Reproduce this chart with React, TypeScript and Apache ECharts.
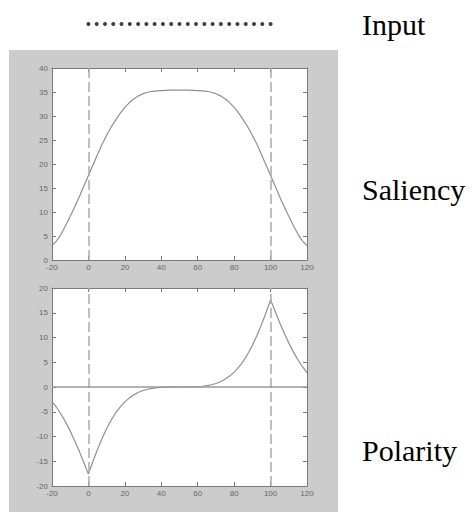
import React, { useEffect, useRef } from "react";
import * as echarts from "echarts";

const xValues = [
  -20, -17.5, -15, -12.5, -10, -7.5, -5, -2.5, 0, 2.5, 5, 7.5, 10, 12.5, 15, 17.5, 20, 22.5, 25, 27.5, 30,
  32.5, 35, 37.5, 40, 42.5, 45, 47.5, 50, 52.5, 55, 57.5, 60, 62.5, 65, 67.5, 70, 72.5, 75, 77.5, 80, 82.5,
  85, 87.5, 90, 92.5, 95, 97.5, 100, 102.5, 105, 107.5, 110, 112.5, 115, 117.5, 120,
];

const saliency = [
  3.0, 4.0, 5.4, 7.2, 9.1, 11.1, 13.2, 15.4, 17.6, 19.8, 22.0, 24.1, 26.0, 27.7, 29.2, 30.6, 31.8, 32.8, 33.6,
  34.2, 34.65, 34.95, 35.15, 35.25, 35.3, 35.35, 35.4, 35.4, 35.4, 35.4, 35.4, 35.35, 35.3, 35.25, 35.15, 34.95,
  34.65, 34.2, 33.6, 32.8, 31.8, 30.6, 29.2, 27.7, 26.0, 24.1, 22.0, 19.8, 17.6, 15.4, 13.2, 11.1, 9.1, 7.2,
  5.4, 4.0, 3.0,
];

const polarity = [
  -2.9, -4.1, -5.5, -7.1, -8.9, -10.9, -13.0, -15.3, -17.6, -15.0, -12.6, -10.4, -8.4, -6.7, -5.2, -4.0, -3.0,
  -2.2, -1.55, -1.05, -0.7, -0.45, -0.27, -0.15, -0.07, -0.03, -0.01, 0, 0, 0, 0.01, 0.03, 0.07, 0.15, 0.27,
  0.45, 0.7, 1.05, 1.55, 2.2, 3.0, 4.0, 5.2, 6.7, 8.4, 10.4, 12.6, 15.0, 17.6, 15.3, 13.0, 10.9, 8.9, 7.1, 5.5,
  4.1, 2.9,
];

const inputDots = [
  0, 4.55, 9.09, 13.64, 18.18, 22.73, 27.27, 31.82, 36.36, 40.91, 45.45, 50, 54.55, 59.09, 63.64, 68.18, 72.73,
  77.27, 81.82, 86.36, 90.91, 95.45, 100,
];

const edgePositions = [0, 100];
const rowLabels = ["Input", "Saliency", "Polarity"];

const AXIS_COLOR = "#7a7a7a";
const LABEL_COLOR = "#666666";
const CURVE_COLOR = "#8f8f8f";
const DASH_COLOR = "#aaaaaa";

function axisPair(kind: "x" | "y", gridIndex: number, min: number, max: number, interval: number) {
  const common = {
    gridIndex,
    type: "value",
    min,
    max,
    interval,
    splitLine: { show: false },
    axisLine: { show: true, onZero: false, lineStyle: { color: AXIS_COLOR, width: 1 } },
    axisTick: { show: true, inside: true, length: 4, lineStyle: { color: AXIS_COLOR } },
  };
  const main = {
    ...common,
    position: kind === "x" ? "bottom" : "left",
    axisLabel: {
      show: true,
      color: LABEL_COLOR,
      fontSize: 8,
      fontFamily: "Liberation Sans",
      margin: kind === "x" ? 3 : 4,
    },
  };
  const opposite = {
    ...common,
    position: kind === "x" ? "top" : "right",
    axisLabel: { show: false },
  };
  return [main, opposite];
}

export default function App() {
  const ref = useRef<HTMLDivElement>(null);

  useEffect(() => {
    if (!ref.current) return;
    const chart = echarts.init(ref.current, undefined, { renderer: "svg" });

    const dashedEdges = edgePositions.map((x) => ({
      xAxis: x,
      lineStyle: { color: DASH_COLOR, width: 1.5, type: [10, 4] },
    }));

    const option: any = {
      animation: false,
      backgroundColor: "#ffffff",
      graphic: [
        {
          type: "rect",
          z: -10,
          shape: { x: 9, y: 50, width: 329, height: 462 },
          style: { fill: "#cccccc" },
        },
        {
          type: "text",
          x: 362,
          y: 24,
          style: {
            text: rowLabels[0],
            font: "30px 'Liberation Serif'",
            fill: "#000",
            verticalAlign: "middle",
          },
        },
        {
          type: "text",
          x: 362,
          y: 189,
          style: {
            text: rowLabels[1],
            font: "30px 'Liberation Serif'",
            fill: "#000",
            verticalAlign: "middle",
          },
        },
        {
          type: "text",
          x: 362,
          y: 450,
          style: {
            text: rowLabels[2],
            font: "30px 'Liberation Serif'",
            fill: "#000",
            verticalAlign: "middle",
          },
        },
      ],
      grid: [
        { left: 52, top: 14, width: 255, height: 20, show: false },
        { left: 52, top: 68, width: 255, height: 192, show: true, backgroundColor: "#ffffff", borderWidth: 0 },
        { left: 52, top: 288, width: 255, height: 198, show: true, backgroundColor: "#ffffff", borderWidth: 0 },
      ],
      xAxis: [
        { gridIndex: 0, type: "value", min: -20, max: 120, show: false },
        ...axisPair("x", 1, -20, 120, 20),
        ...axisPair("x", 2, -20, 120, 20),
      ],
      yAxis: [
        { gridIndex: 0, type: "value", min: -1, max: 1, show: false },
        ...axisPair("y", 1, 0, 40, 5),
        ...axisPair("y", 2, -20, 20, 5),
      ],
      series: [
        {
          type: "scatter",
          xAxisIndex: 0,
          yAxisIndex: 0,
          symbol: "circle",
          symbolSize: 4,
          itemStyle: { color: "#111111" },
          data: inputDots.map((x) => [x, 0]),
        },
        {
          type: "line",
          xAxisIndex: 1,
          yAxisIndex: 1,
          showSymbol: false,
          symbol: "none",
          lineStyle: { color: CURVE_COLOR, width: 1.2 },
          data: xValues.map((x, i) => [x, saliency[i]]),
          markLine: {
            silent: true,
            symbol: "none",
            label: { show: false },
            data: dashedEdges,
          },
        },
        {
          type: "line",
          xAxisIndex: 3,
          yAxisIndex: 3,
          showSymbol: false,
          symbol: "none",
          lineStyle: { color: CURVE_COLOR, width: 1.2 },
          data: xValues.map((x, i) => [x, polarity[i]]),
          markLine: {
            silent: true,
            symbol: "none",
            label: { show: false },
            data: [
              ...dashedEdges,
              { yAxis: 0, lineStyle: { color: "#999999", width: 1.5, type: "solid" } },
            ],
          },
        },
      ],
    };

    chart.setOption(option);
    return () => chart.dispose();
  }, []);

  return (
    <div
      ref={ref}
      style={{ position: "fixed", left: 0, top: 0, width: 476, height: 512 }}
    />
  );
}
